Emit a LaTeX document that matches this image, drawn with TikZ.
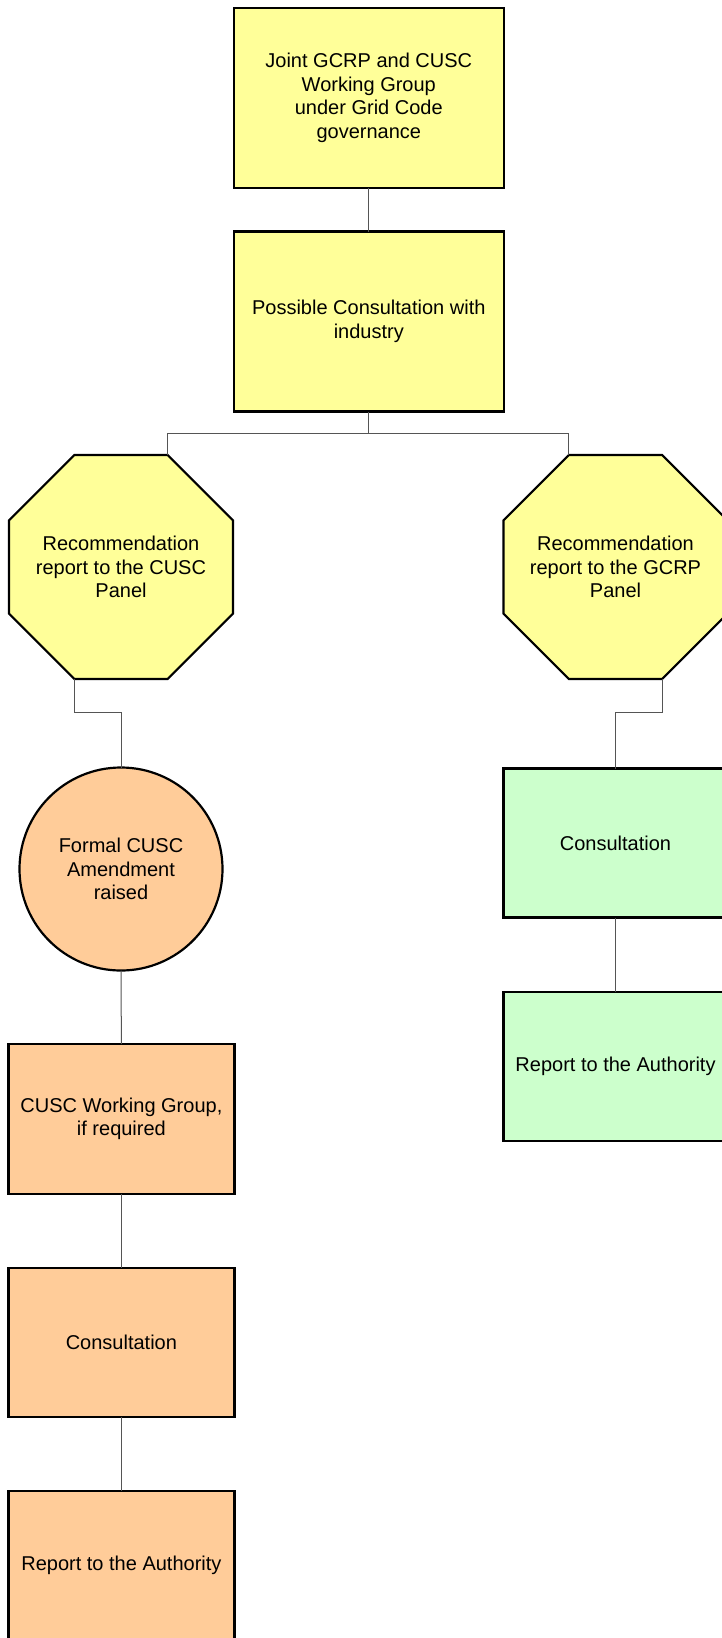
\documentclass[tikz,border=0pt]{standalone}
\usepackage{fontspec}
\setmainfont{Liberation Sans}
\usetikzlibrary{calc}
\definecolor{ylw}{HTML}{FFFF99}
\definecolor{peach}{HTML}{FFCC99}
\definecolor{mint}{HTML}{CCFFCC}
\definecolor{conn}{HTML}{555555}
\begin{document}
\begin{tikzpicture}[x=1pt,y=-1pt,
  base/.style={draw=black,line width=2.2pt,inner sep=0pt,outer sep=0pt,align=center,
     font=\fontsize{20}{23.5}\selectfont},
  bigbox/.style={base,rectangle,minimum width=270pt,minimum height=180pt,fill=ylw},
  octtext/.style={inner sep=0pt,outer sep=0pt,align=center,font=\fontsize{20}{23.5}\selectfont},
  octshape/.style={draw=black,line width=2.2pt,fill=ylw,line join=miter},
  roundnode/.style={base,circle,minimum size=203pt,fill=peach},
  peachbox/.style={base,rectangle,minimum width=226pt,minimum height=149.5pt,fill=peach},
  mintbox/.style={base,rectangle,minimum width=224pt,minimum height=149pt,fill=mint},
  link/.style={draw=conn,line width=1pt}]
\useasboundingbox (0,0) rectangle (721,1638);
\fill[white] (0,0) rectangle (721,1638);

% connectors first (under the shapes)
\coordinate (octLc) at (121,567);
\coordinate (octRc) at (615.5,567);
\coordinate (octLtr) at ($(octLc)+(46.6,-112)$);
\coordinate (octRtl) at ($(octRc)+(-46.6,-112)$);
\coordinate (octLbl) at ($(octLc)+(-46.6,112)$);
\coordinate (octRbr) at ($(octRc)+(46.6,112)$);

\foreach \c in {octLc,octRc}{
  \draw[octshape] ($(\c)+(-46.6,-112)$) -- ($(\c)+(46.6,-112)$) -- ($(\c)+(112,-46.6)$)
    -- ($(\c)+(112,46.6)$) -- ($(\c)+(46.6,112)$) -- ($(\c)+(-46.6,112)$)
    -- ($(\c)+(-112,46.6)$) -- ($(\c)+(-112,-46.6)$) -- cycle;
}

\node[bigbox] (top) at (368.8,97.8) {Joint GCRP and CUSC\\Working Group\\under Grid Code\\governance};
\node[bigbox] (poss) at (368.8,321.5) {Possible Consultation with\\industry};
\node[octtext] (octL) at (octLc) {Recommendation\\report to the CUSC\\Panel};
\node[octtext] (octR) at (octRc) {Recommendation\\report to the GCRP\\Panel};
\node[roundnode] (circ) at (121,869) {Formal CUSC\\Amendment\\raised};
\node[mintbox] (g1) at (615.5,843) {Consultation};
\node[mintbox] (g2) at (615.5,1066.7) {Report to the Authority};
\node[peachbox] (wg) at (121.4,1118.9) {CUSC Working Group,\\if required};
\node[peachbox] (cons) at (121.4,1342.6) {Consultation};
\node[peachbox] (rep) at (121.4,1565.8) {Report to the Authority};

\coordinate (bj) at ($(poss.south)+(0,22)$);
\coordinate (lj) at ($(octLbl)+(0,33.5)$);
\coordinate (rj) at ($(octRbr)+(0,33.5)$);

\draw[link] (top.south) -- (poss.north);
\draw[link] (poss.south) -- (bj);
\draw[link] (bj) -| (octLtr);
\draw[link] (bj) -| (octRtl);
\draw[link] (octLbl) -- (lj) -| (circ.north);
\draw[link] (octRbr) -- (rj) -| (g1.north);
\draw[link] (g1.south) -- (g2.north);
\draw[link] (circ.south) -- (wg.north);
\draw[link] (wg.south) -- (cons.north);
\draw[link] (cons.south) -- (rep.north);
\end{tikzpicture}
\end{document}
